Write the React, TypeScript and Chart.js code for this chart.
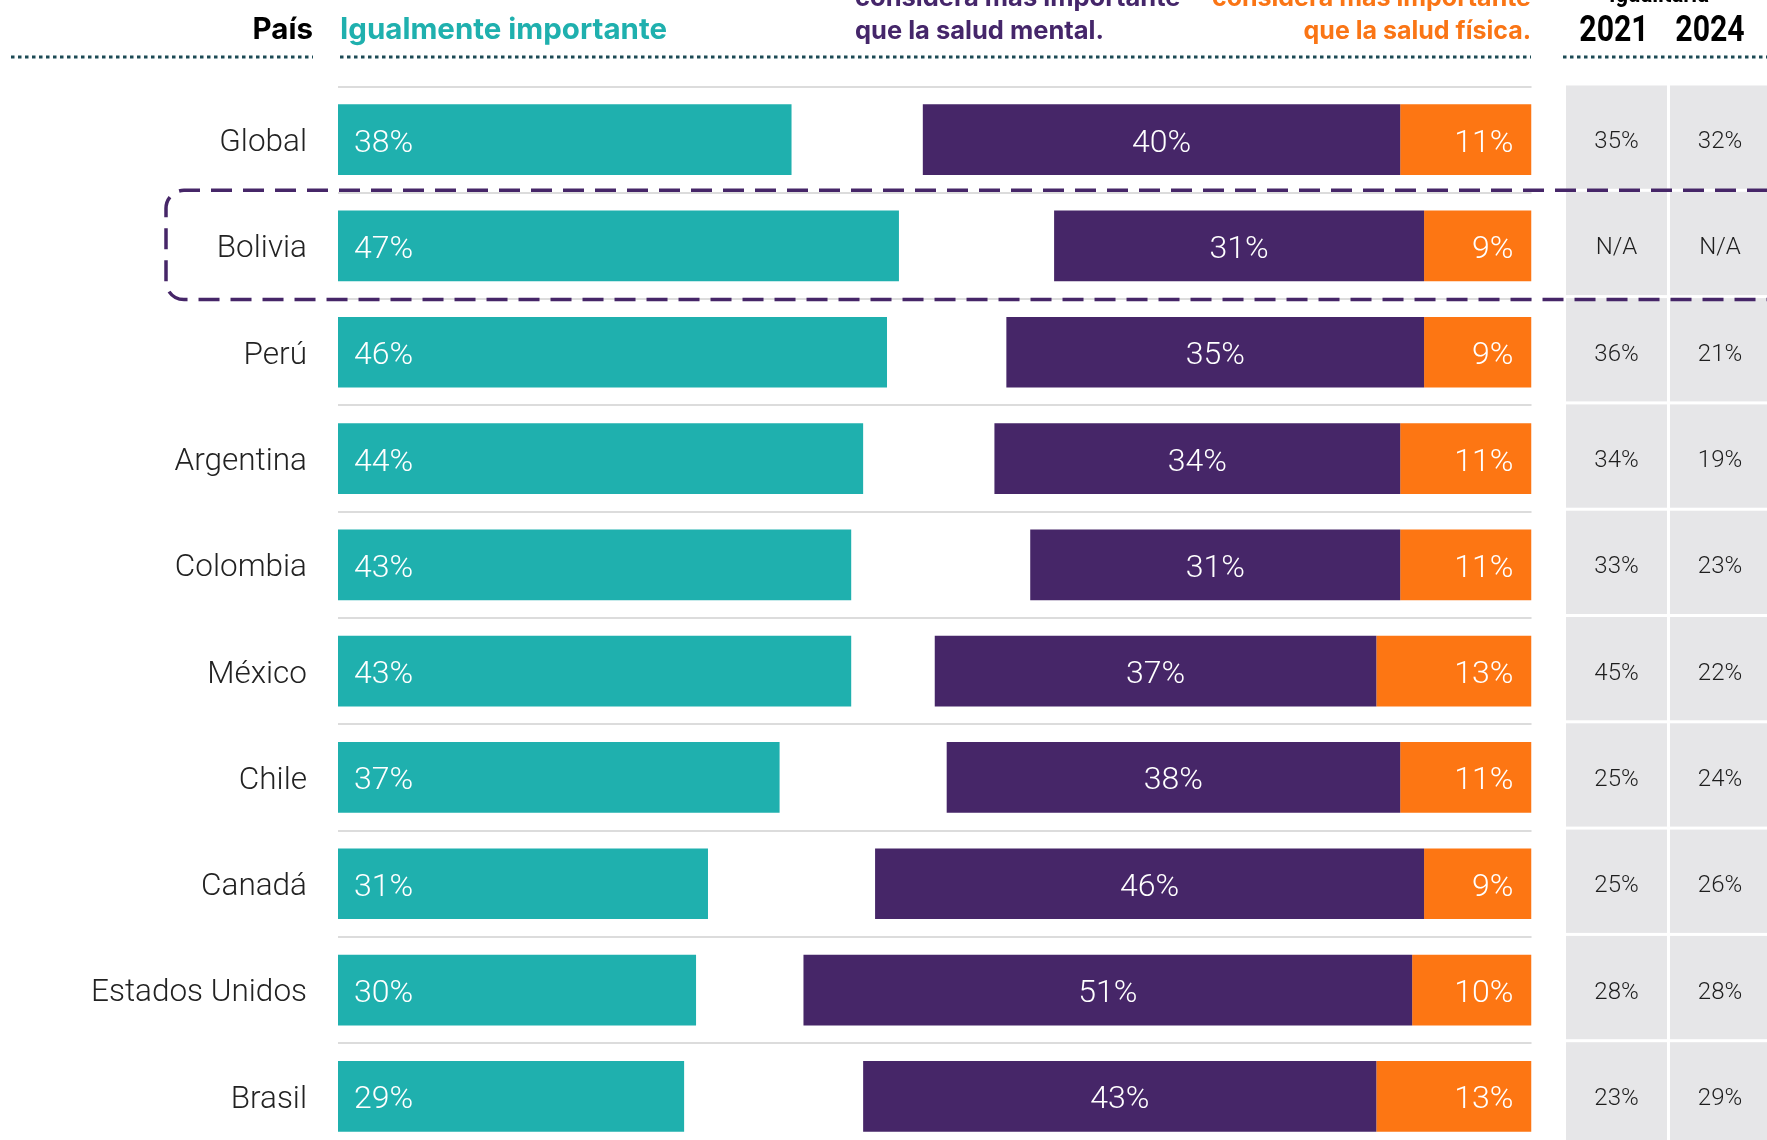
import React, { useEffect, useRef } from "react";
import { Chart, registerables } from "chart.js";

Chart.register(...registerables);

const countries = ["Global", "Bolivia", "Perú", "Argentina", "Colombia", "México", "Chile", "Canadá", "Estados Unidos", "Brasil"];
const igualmente = [38, 47, 46, 44, 43, 43, 37, 31, 30, 29];
const mental = [40, 31, 35, 34, 31, 37, 38, 46, 51, 43];
const fisica = [11, 9, 9, 11, 11, 13, 11, 9, 10, 13];
const igualitaria2021 = ["35%", "N/A", "36%", "34%", "33%", "45%", "25%", "25%", "28%", "23%"];
const igualitaria2024 = ["32%", "N/A", "21%", "19%", "23%", "22%", "24%", "26%", "28%", "29%"];
const highlighted = "Bolivia";

const TEAL = "#1fb0ae";
const PURPLE = "#462668";
const ORANGE = "#fd7613";
const DOT = "#1c4a55";

const CW = 1767;
const CH = 1160;

function condensedText(ctx: any, text: string, cx: number, y: number, font: string, sx: number) {
  ctx.save();
  ctx.font = font;
  ctx.textAlign = "center";
  ctx.translate(cx, y);
  ctx.scale(sx, 1);
  ctx.fillText(text, 0, 0);
  ctx.restore();
}

const labelsPlugin = {
  id: "barLabels",
  afterDatasetsDraw(chart: any) {
    const ctx = chart.ctx;
    ctx.save();
    ctx.fillStyle = "#ffffff";
    ctx.font = "300 32px Roboto";
    ctx.textBaseline = "alphabetic";
    chart.data.datasets.forEach((ds: any, di: number) => {
      const meta = chart.getDatasetMeta(di);
      meta.data.forEach((el: any, i: number) => {
        const p = el.getProps(["x", "y", "base"], true);
        const v = ds.values[i];
        const t = v + "%";
        const yb = p.y + 12;
        if (di === 0) {
          ctx.textAlign = "left";
          ctx.fillText(t, p.base + 16, yb);
        } else if (di === 1) {
          ctx.textAlign = "center";
          ctx.fillText(t, (p.base + p.x) / 2, yb);
        } else {
          ctx.textAlign = "right";
          ctx.fillText(t, p.x - 18, yb);
        }
      });
    });
    ctx.restore();
  },
};

const tablePlugin = {
  id: "sideTable",
  beforeDatasetsDraw(chart: any) {
    const ctx = chart.ctx;
    const ys = chart.scales.y;
    const band = ys.getPixelForValue(1) - ys.getPixelForValue(0);
    ctx.save();
    const cols = [
      { x0: 1566, x1: 1667, cx: 1616.5, vals: igualitaria2021 },
      { x0: 1670, x1: 1771, cx: 1720, vals: igualitaria2024 },
    ];
    countries.forEach((_c, i) => {
      const cy = ys.getPixelForValue(i);
      const top = cy - band / 2 - 1;
      const bottom = cy + band / 2 - 4;
      cols.forEach((col) => {
        ctx.fillStyle = "#e6e6e8";
        ctx.fillRect(col.x0, top, col.x1 - col.x0, bottom - top);
        ctx.fillStyle = "#1e1e1e";
        ctx.font = "300 24px Roboto";
        ctx.textAlign = "center";
        ctx.textBaseline = "alphabetic";
        ctx.fillText(col.vals[i], col.cx, cy + 8.5);
      });
    });
    ctx.restore();
  },
  afterDraw(chart: any) {
    const ctx = chart.ctx;
    const ys = chart.scales.y;
    const band = ys.getPixelForValue(1) - ys.getPixelForValue(0);
    ctx.save();
    // headers
    ctx.textBaseline = "alphabetic";
    ctx.font = "700 29.5px Inter";
    ctx.fillStyle = "#000000";
    ctx.textAlign = "right";
    ctx.fillText("País", 313, 38.5);
    ctx.fillStyle = TEAL;
    ctx.textAlign = "left";
    ctx.fillText("Igualmente importante", 340, 38.5);

    ctx.font = "700 25.5px Inter";
    ctx.fillStyle = "#45266a";
    ctx.textAlign = "left";
    ctx.fillText("considera más importante", 855, 6);
    ctx.fillText("que la salud mental.", 855, 39);
    ctx.fillStyle = "#fa7515";
    ctx.textAlign = "right";
    ctx.font = "700 25px Inter";
    ctx.fillText("considera más importante", 1531, 6);
    ctx.fillText("que la salud física.", 1531, 39);

    ctx.fillStyle = "#000000";
    condensedText(ctx, "Igualitaria", 1659, 2, "700 26px Roboto", 0.85);
    condensedText(ctx, "2021", 1614, 41, "700 36px Roboto", 0.84);
    condensedText(ctx, "2024", 1710, 41, "700 36px Roboto", 0.84);

    // dotted rules
    ctx.strokeStyle = DOT;
    ctx.lineWidth = 3;
    ctx.setLineDash([3.5, 3.5]);
    [[11, 313], [340, 1531], [1563, 1767]].forEach(([a, b]) => {
      ctx.beginPath();
      ctx.moveTo(a, 57);
      ctx.lineTo(b, 57);
      ctx.stroke();
    });

    // highlight box
    const hi = countries.indexOf(highlighted);
    if (hi >= 0) {
      const cy = ys.getPixelForValue(hi);
      const top = cy - band / 2 - 2.5;
      const bottom = cy + band / 2 + 0.5;
      const left = 166;
      const r = 18;
      ctx.strokeStyle = PURPLE;
      ctx.lineWidth = 3.5;
      ctx.setLineDash([21, 11]);
      ctx.beginPath();
      ctx.moveTo(1800, top);
      ctx.lineTo(left + r, top);
      ctx.arcTo(left, top, left, top + r, r);
      ctx.lineTo(left, bottom - r);
      ctx.arcTo(left, bottom, left + r, bottom, r);
      ctx.lineTo(1800, bottom);
      ctx.stroke();
    }
    ctx.restore();
  },
};

export default function App() {
  const ref = useRef<HTMLCanvasElement | null>(null);

  useEffect(() => {
    document.body.style.margin = "0";
    const canvas = ref.current;
    if (!canvas) return;
    const chart = new Chart(canvas, {
      type: "bar",
      data: {
        labels: countries,
        datasets: [
          {
            label: "Igualmente importante",
            data: igualmente.map((v) => [0, v]),
            values: igualmente,
            backgroundColor: TEAL,
          } as any,
          {
            label: "Salud física más importante que la mental",
            data: mental.map((v, i) => [100 - fisica[i] - v, 100 - fisica[i]]),
            values: mental,
            backgroundColor: PURPLE,
          } as any,
          {
            label: "Salud mental más importante que la física",
            data: fisica.map((v) => [100 - v, 100]),
            values: fisica,
            backgroundColor: ORANGE,
          } as any,
        ],
      },
      options: {
        indexAxis: "y",
        responsive: false,
        animation: false,
        devicePixelRatio: 1,
        maintainAspectRatio: false,
        layout: { padding: { left: 0, right: CW - 1531.5, top: 86.5, bottom: CH - 1149.5 } },
        datasets: {
          bar: { grouped: false, barPercentage: 0.665, categoryPercentage: 1, borderWidth: 0 },
        },
        plugins: {
          legend: { display: false },
          title: { display: false },
          tooltip: { enabled: false },
        },
        scales: {
          x: { display: false, min: 0, max: 100 },
          y: {
            display: true,
            afterFit: (scale: any) => {
              scale.width = 338;
              scale.paddingTop = 0;
              scale.paddingBottom = 0;
            },
            border: { display: false },
            grid: { display: true, offset: true, color: "#dcdcdc", lineWidth: 2, drawTicks: false },
            ticks: {
              padding: 31,
              labelOffset: 3.5,
              color: "#222222",
              font: { family: "Roboto", size: 31.5, weight: "300" as any },
            },
          },
        },
      },
      plugins: [tablePlugin, labelsPlugin],
    });
    return () => chart.destroy();
  }, []);

  return (
    <div style={{ width: CW, height: 1140, overflow: "hidden", position: "relative", background: "#ffffff" }}>
      <canvas ref={ref} width={CW} height={CH} style={{ display: "block", width: CW, height: CH }} />
    </div>
  );
}
